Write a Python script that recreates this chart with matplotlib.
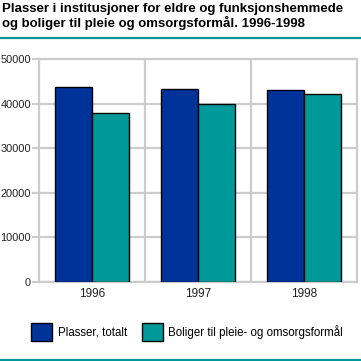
import matplotlib.pyplot as plt
import numpy as np
from matplotlib.lines import Line2D
from matplotlib.patches import Patch

years = ['1996', '1997', '1998']
plasser = [43700, 43300, 43100]
boliger = [37900, 39900, 42200]
series_names = ['Plasser, totalt', 'Boliger til pleie- og omsorgsformål']
colors = ['#003399', '#009999']
grid_col = '#cccccc'

plt.rcParams['font.family'] = ['Liberation Sans', 'DejaVu Sans']

fig = plt.figure(figsize=(3.61, 3.61), dpi=100)
ax = fig.add_axes([39 / 361, 1 - 282 / 361, 318 / 361, 223 / 361])

x = np.arange(len(years))
w = 0.35
ax.bar(x - w / 2, plasser, w, color=colors[0], edgecolor='black', linewidth=1, zorder=3)
ax.bar(x + w / 2, boliger, w, color=colors[1], edgecolor='black', linewidth=1, zorder=3)

ax.set_xlim(-0.5, 2.5)
ax.set_ylim(0, 50000)
ax.set_yticks(range(0, 50001, 10000))
ax.set_xticks(x)
ax.set_xticklabels(years)
ax.set_xticks([0.5, 1.5], minor=True)
ax.grid(axis='y', color=grid_col, linewidth=1.6, zorder=0)
ax.grid(axis='x', which='minor', color=grid_col, linewidth=1.6, zorder=0)
ax.tick_params(axis='y', length=5, width=1.6, color=grid_col, labelsize=7.9, labelcolor='#222222', pad=0.8)
ax.tick_params(axis='x', length=0, labelsize=8.5, labelcolor='#222222', pad=4)
ax.tick_params(axis='x', which='minor', length=0)
for s in ax.spines.values():
    s.set_color(grid_col)
    s.set_linewidth(1.6)

fig.text(2 / 361, 1 - 3 / 361, 'Plasser i institusjoner for eldre og funksjonshemmede\nog boliger til pleie og omsorgsformål. 1996-1998',
         ha='left', va='top', fontsize=9.5, fontweight='bold', linespacing=1.1, color='black')
fig.add_artist(Line2D([0, 1], [1 - 37.5 / 361, 1 - 37.5 / 361], color='#009999', linewidth=1.6))
fig.add_artist(Line2D([0, 1], [1 - 359.5 / 361, 1 - 359.5 / 361], color='#009999', linewidth=1.6))

handles = [Patch(facecolor=c, edgecolor='black', linewidth=1) for c in colors]
fig.legend(handles, series_names, loc='center left', bbox_to_anchor=(31 / 361, 1 - 332 / 361),
           ncol=2, frameon=False, fontsize=8.3, handlelength=1.8, handleheight=1.9,
           handletextpad=0.5, columnspacing=1.3, borderaxespad=0, borderpad=0)

fig.savefig('out.png', dpi=100)
